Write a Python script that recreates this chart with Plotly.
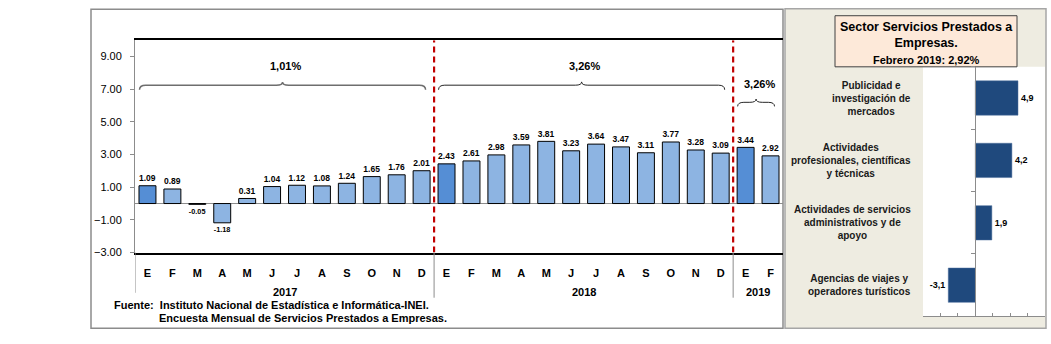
import plotly.graph_objects as go

W, H = 1051, 344

# ---------------- data ----------------
months = ["E", "F", "M", "A", "M", "J", "J", "A", "S", "O", "N", "D"]
years = ["2017", "2018", "2019"]
v2017 = [1.09, 0.89, -0.05, -1.18, 0.31, 1.04, 1.12, 1.08, 1.24, 1.65, 1.76, 2.01]
v2018 = [2.43, 2.61, 2.98, 3.59, 3.81, 3.23, 3.64, 3.47, 3.11, 3.77, 3.28, 3.09]
v2019 = [3.44, 2.92]
year_avg = ["1,01%", "3,26%", "3,26%"]
y_ticks = [-3, -1, 1, 3, 5, 7, 9]

sectors = [
    "Publicidad e<br>investigación de<br>mercados",
    "Actividades<br>profesionales, científicas<br>y técnicas",
    "Actividades de servicios<br>administrativos y de<br>apoyo",
    "Agencias de viajes y<br>operadores turísticos",
]
sector_vals = [4.9, 4.2, 1.9, -3.1]
panel_title = ["Sector Servicios Prestados a", "Empresas.", "Febrero 2019: 2,92%"]
source_lines = ["Fuente:  Instituto Nacional de Estadística e Informática-INEI.",
                "Encuesta Mensual de Servicios Prestados a Empresas."]

# ---------------- helpers ----------------
def px(x):
    return x / W

def py(y):
    return 1 - y / H

FONT = "Liberation Sans Narrow, Arial Narrow, Liberation Sans, sans-serif"
DARK_BLUE = "#558ED5"
LIGHT_BLUE = "#8DB4E2"

groups = [v2017, v2018, v2019]
values, xs, ticktext, colors, group_ranges = [], [], [], [], []
i = 0
for g in groups:
    start = i
    for k, v in enumerate(g):
        values.append(v)
        xs.append(i)
        ticktext.append(months[k])
        colors.append(DARK_BLUE if k == 0 else LIGHT_BLUE)
        i += 1
    group_ranges.append((start, i - 1))
n = len(values)

fig = go.Figure()

fig.add_trace(go.Bar(
    x=xs, y=values, width=0.68,
    marker=dict(color=colors, line=dict(color="#000000", width=1)),
    text=[f"{v:.2f}" for v in values], textposition="outside",
    textfont=dict(family=FONT, size=10, color="#000000", weight="bold"),
    cliponaxis=False, xaxis="x", yaxis="y", showlegend=False,
))

fig.add_trace(go.Bar(
    y=list(range(len(sectors))), x=sector_vals, orientation="h", width=0.55,
    marker=dict(color="#1F497D", line=dict(color="#4A6C9B", width=0.5)),
    text=[f"{v:.1f}".replace(".", ",") for v in sector_vals], textposition="outside",
    textfont=dict(family=FONT, size=9, color="#000000", weight="bold"),
    cliponaxis=False, xaxis="x2", yaxis="y2", showlegend=False,
))

shapes = []
# outer border of left chart
shapes.append(dict(type="rect", xref="paper", yref="paper",
                   x0=px(91), x1=px(783), y0=py(334), y1=py(9.5),
                   line=dict(color="#8C8C8C", width=1.5), layer="below"))
# right panel
shapes.append(dict(type="rect", xref="paper", yref="paper",
                   x0=px(785), x1=px(1046), y0=py(334), y1=py(9),
                   fillcolor="#EEECE1", line=dict(color="#A6A6A6", width=1.5), layer="below"))
shapes.append(dict(type="rect", xref="x2 domain", yref="y2 domain",
                   x0=0, x1=1, y0=0, y1=1, fillcolor="#FFFFFF",
                   line=dict(width=0), layer="below"))
shapes.append(dict(type="rect", xref="paper", yref="paper",
                   x0=px(835), x1=px(1017), y0=py(68), y1=py(16),
                   fillcolor="#FDE9D9", line=dict(color="#404040", width=1), layer="below"))

# red dashed year separators and gray separators below axis
for gi in range(1, len(group_ranges)):
    xb = group_ranges[gi][0] - 0.5
    shapes.append(dict(type="line", xref="x", yref="y", x0=xb, x1=xb, y0=-3, y1=10,
                       line=dict(color="#C00000", width=2.2, dash="6px,4px"), layer="above"))
    shapes.append(dict(type="line", xref="x", yref="paper", x0=xb, x1=xb,
                       y0=py(303), y1=py(257), line=dict(color="#8C8C8C", width=1)))
shapes.append(dict(type="line", xref="x", yref="paper", x0=-0.5, x1=-0.5,
                   y0=py(298), y1=py(257), line=dict(color="#8C8C8C", width=1)))

# braces over each year
brace_levels = [(6.97, 7.25, 7.45, 8.45), (6.97, 7.25, 7.45, 8.45), (5.95, 6.2, 6.4, 7.35)]
annotations = []
for (a, b), (yb, yt, yp, ylab), lab in zip(group_ranges, brace_levels, year_avg):
    x0, x1 = a - 0.32, b + 0.16
    xm = (x0 + x1) / 2
    d = 0.25
    path = (f"M {x0},{yb} Q {x0},{yt} {x0 + d},{yt} L {xm - d},{yt} "
            f"Q {xm},{yt} {xm},{yp} Q {xm},{yt} {xm + d},{yt} L {x1 - d},{yt} "
            f"Q {x1},{yt} {x1},{yb}")
    col = "#6E6E6E" if a == 0 else "#262626"
    shapes.append(dict(type="path", xref="x", yref="y", path=path,
                       line=dict(color=col, width=1.5 if a == 0 else 1)))
    annotations.append(dict(x=(a + b) / 2 + 0.05, y=ylab, xref="x", yref="y", text=lab,
                            showarrow=False, xanchor="center", yanchor="middle",
                            font=dict(family=FONT, size=11, color="#000000", weight="bold")))

# year labels
for (a, b), yr in zip(group_ranges, years):
    annotations.append(dict(x=(a + b) / 2, y=py(297), xref="x", yref="paper", text=yr,
                            showarrow=False, xanchor="center", yanchor="middle",
                            font=dict(family=FONT, size=11, color="#000000", weight="bold")))

# source text
annotations.append(dict(x=px(112), y=py(310), xref="paper", yref="paper", text=source_lines[0],
                        showarrow=False, xanchor="left", yanchor="middle",
                        font=dict(family=FONT, size=11, color="#000000", weight="bold")))
annotations.append(dict(x=px(157), y=py(323.5), xref="paper", yref="paper", text=source_lines[1],
                        showarrow=False, xanchor="left", yanchor="middle",
                        font=dict(family=FONT, size=11, color="#000000", weight="bold")))

# right panel title
annotations.append(dict(x=px(926), y=py(44), xref="paper", yref="paper",
                        text=(f"{panel_title[0]}<br>{panel_title[1]}<br>"
                              f"<span style='font-size:11px'>{panel_title[2]}</span>"),
                        showarrow=False, align="center", xanchor="center", yanchor="middle",
                        font=dict(family=FONT, size=12.5, color="#000000", weight="bold")))

# right panel category labels
for k, s in enumerate(sectors):
    annotations.append(dict(x=px(913), y=k, xref="paper", yref="y2", text=s,
                            showarrow=False, align="center", xanchor="right", yanchor="middle",
                            font=dict(family=FONT, size=10, color="#1A1A1A", weight="bold")))

fig.update_layout(
    width=W, height=H,
    margin=dict(l=0, r=0, t=0, b=0),
    paper_bgcolor="#FFFFFF", plot_bgcolor="#FFFFFF",
    shapes=shapes, annotations=annotations,
    xaxis=dict(domain=[px(135), px(783)], range=[-0.5, n - 0.5],
               tickmode="array", tickvals=xs, ticktext=ticktext,
               ticks="", ticklabelstandoff=10,
               tickfont=dict(family=FONT, size=11, color="#000000", weight="bold"),
               showline=True, linecolor="#000000", linewidth=1.5, mirror=True,
               showgrid=False, zeroline=False, anchor="y", fixedrange=True),
    yaxis=dict(domain=[py(257), py(41)], range=[-3, 10],
               tickmode="array", tickvals=y_ticks, tickformat=".2f",
               ticks="outside", ticklen=4, tickcolor="#8C8C8C",
               tickfont=dict(family=FONT, size=11, color="#000000"),
               ticklabelstandoff=6,
               showline=True, linecolor="#8C8C8C", linewidth=1,
               showgrid=False, zeroline=True, zerolinecolor="#8C8C8C", zerolinewidth=1,
               anchor="x"),
    xaxis2=dict(domain=[px(923), px(1045)], range=[-6, 8],
                tickmode="linear", tick0=-6, dtick=2, ticks="inside", ticklen=3,
                tickcolor="#8C8C8C", showticklabels=False,
                showline=True, linecolor="#8C8C8C", linewidth=1,
                showgrid=False, zeroline=False, anchor="y2"),
    yaxis2=dict(domain=[py(322), py(68)], range=[len(sectors) - 0.5, -0.5],
                anchor="free", position=px(975),
                tickmode="array", tickvals=[k - 0.5 for k in range(len(sectors) + 1)],
                ticks="outside", ticklen=4, tickcolor="#8C8C8C", showticklabels=False,
                showline=True, linecolor="#8C8C8C", linewidth=1,
                showgrid=False, zeroline=False),
    bargap=0.3,
)

fig.write_html("out.html")
